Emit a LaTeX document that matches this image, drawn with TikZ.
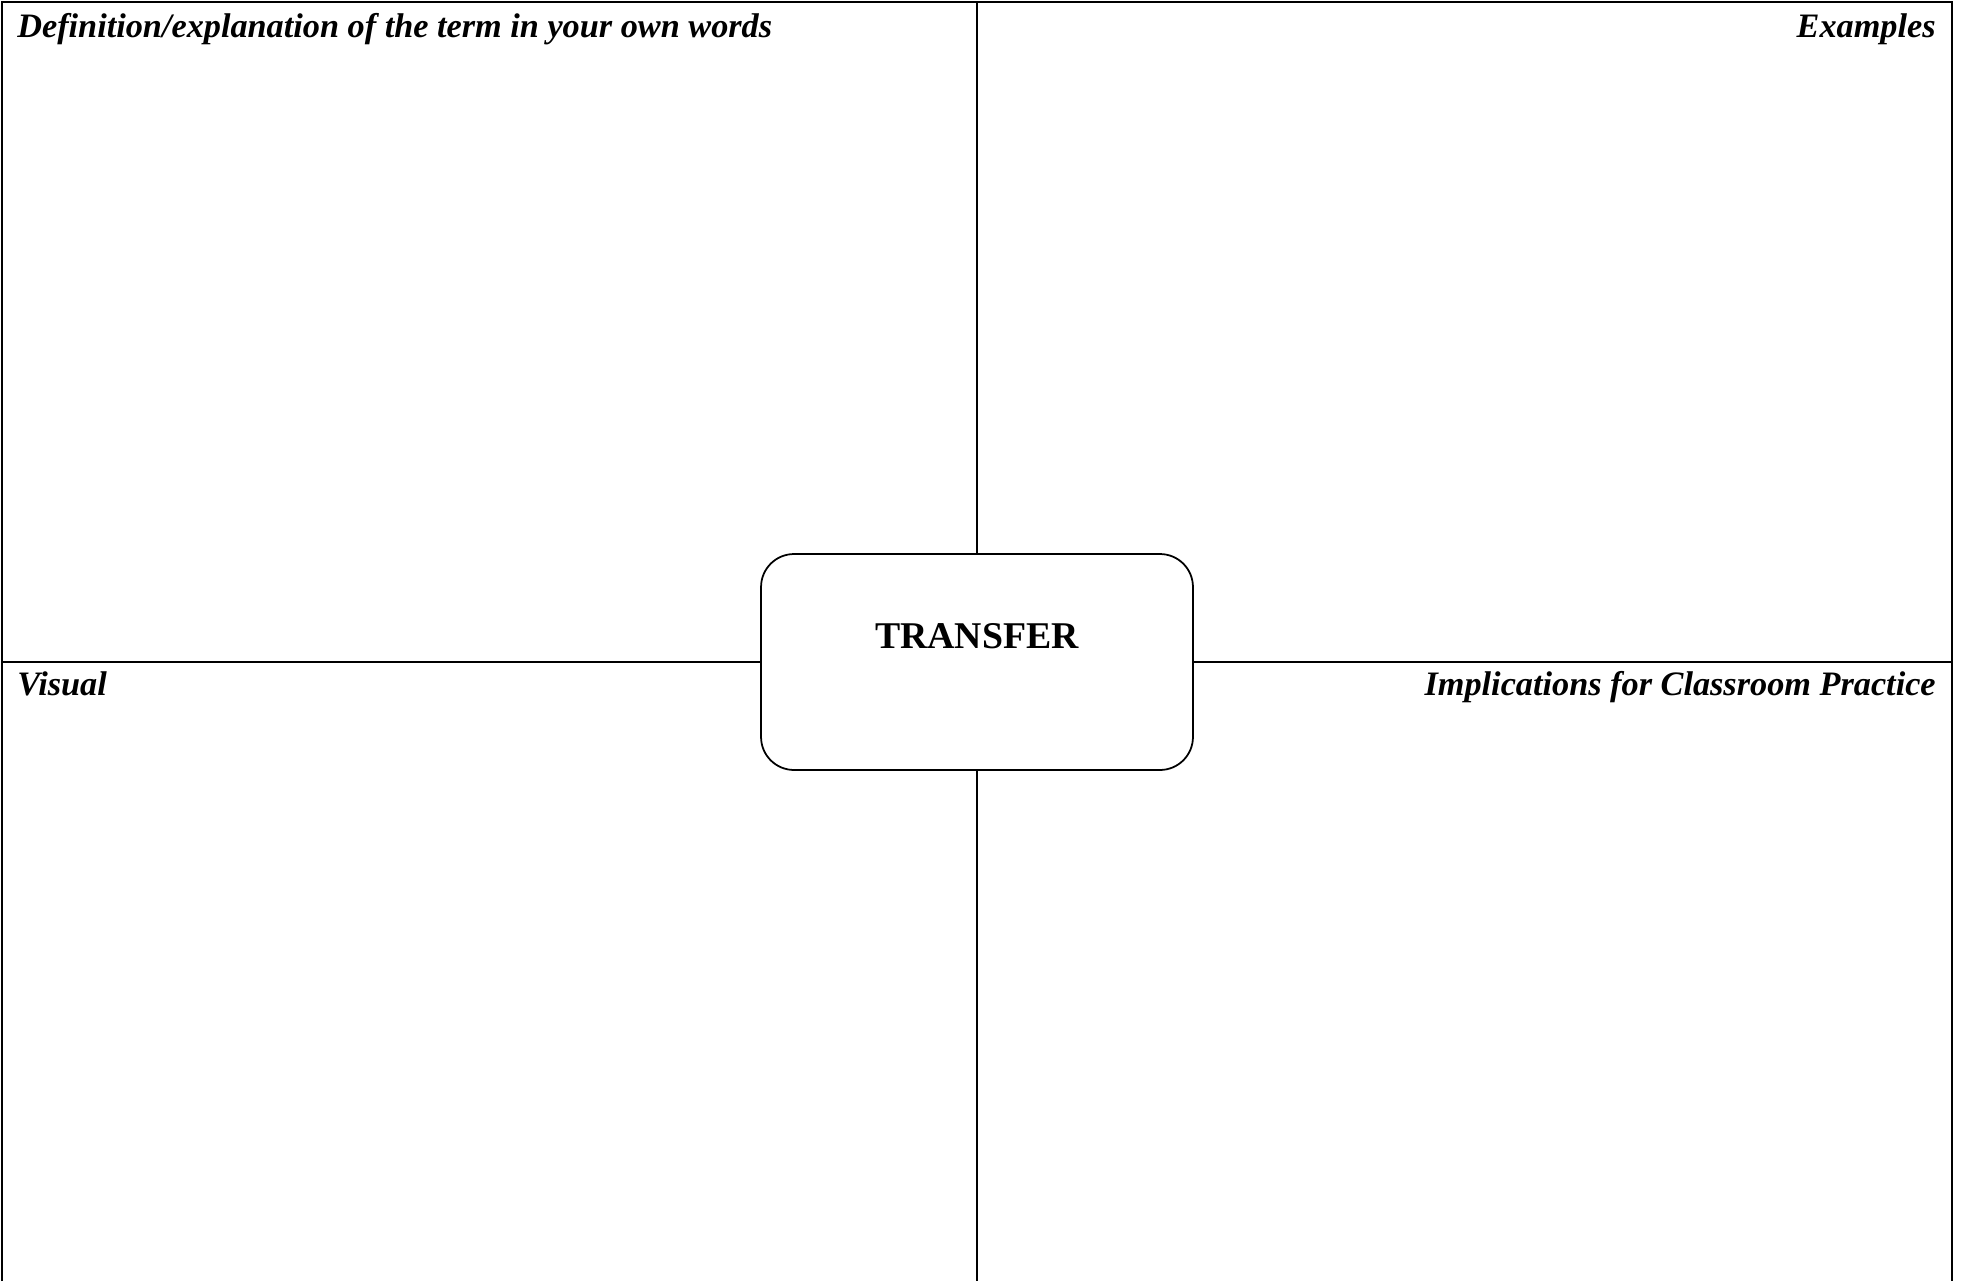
\documentclass[tikz,border=0pt]{standalone}
\usepackage{fontspec}
\setmainfont{Liberation Serif}
\usetikzlibrary{positioning}
\tikzset{
  quadlabel/.style={font=\fontsize{19.5}{23}\selectfont\bfseries\itshape, inner sep=0pt},
  termbox/.style={draw, line width=1pt, rounded corners=0.66cm, fill=white,
    minimum width=8.64cm, minimum height=4.32cm, inner sep=0pt,
    text height=0.5cm, text depth=1.06cm,
    font=\fontsize{21.5}{25}\selectfont\bfseries},
  gridline/.style={line width=0.7pt}
}

\begin{document}
\begin{tikzpicture}[x=0.02cm, y=-0.02cm]
    \useasboundingbox (0, 0) rectangle (1967, 1281);
    % frame and quadrants
    \coordinate (tl) at (2, 2);
    \coordinate (tr) at (1952, 2);
    \coordinate (bl) at (2, 1281);
    \coordinate (br) at (1952, 1281);
    \coordinate (midtop) at (977, 2);
    \coordinate (midbot) at (977, 1281);
    \coordinate (midleft) at (2, 662);
    \coordinate (midright) at (1952, 662);
    \draw[gridline] (bl) -- (tl) -- (tr) -- (br);
    \draw[gridline] (midtop) -- (midbot);
    \draw[gridline] (midleft) -- (midright);
    % term in the middle
    \node[termbox] (term) at (977, 662) {TRANSFER};
    % quadrant headings
    \node[quadlabel, anchor=base west] (definition) at (17, 37) {Definition/explanation of the term in your own words};
    \node[quadlabel, anchor=base east] (examples) at (1936, 37) {Examples};
    \node[quadlabel, anchor=base west] (visual) at (17, 695) {Visual};
    \node[quadlabel, anchor=base east] (implications) at (1936, 695) {Implications for Classroom Practice};
\end{tikzpicture}
\end{document}
